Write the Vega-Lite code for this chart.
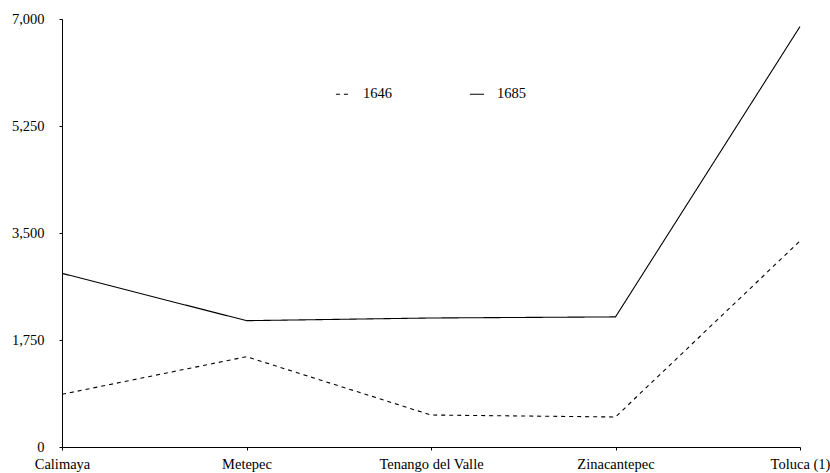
{
  "$schema": "https://vega.github.io/schema/vega-lite/v6.json",
  "width": 738,
  "height": 428,
  "autosize": {"type": "none"},
  "padding": {"left": 62, "top": 19, "right": 30, "bottom": 26},
  "background": "white",
  "config": {
    "view": {"stroke": null},
    "font": "Liberation Serif",
    "axis": {"grid": false, "domainColor": "black", "tickColor": "black", "labelColor": "black", "labelFont": "Liberation Serif", "labelFontWeight": "normal", "labelFontSize": 14.5, "domainWidth": 1, "tickWidth": 1, "title": null}
  },
  "data": {
    "values": [
      {"place": "Calimaya", "year": "1646", "value": 862},
      {"place": "Metepec", "year": "1646", "value": 1477},
      {"place": "Tenango del Valle", "year": "1646", "value": 523},
      {"place": "Zinacantepec", "year": "1646", "value": 491},
      {"place": "Toluca (1)", "year": "1646", "value": 3370},
      {"place": "Calimaya", "year": "1685", "value": 2840},
      {"place": "Metepec", "year": "1685", "value": 2066},
      {"place": "Tenango del Valle", "year": "1685", "value": 2110},
      {"place": "Zinacantepec", "year": "1685", "value": 2128},
      {"place": "Toluca (1)", "year": "1685", "value": 6876}
    ]
  },
  "mark": {"type": "line", "color": "black", "strokeWidth": 1.1},
  "encoding": {
    "x": {
      "field": "place", "type": "nominal", "sort": null,
      "scale": {"type": "point", "padding": 0},
      "axis": {"labelAngle": 0, "tickSize": 3, "labelPadding": 7}
    },
    "y": {
      "field": "value", "type": "quantitative",
      "scale": {"domain": [0, 7000], "nice": false},
      "axis": {"values": [0, 1750, 3500, 5250, 7000], "format": ",.0f", "tickSize": 3, "labelPadding": 15}
    },
    "strokeDash": {
      "field": "year", "type": "nominal",
      "scale": {"domain": ["1646", "1685"], "range": [[4, 4], [1, 0]]},
      "legend": {
        "title": null,
        "orient": "none",
        "legendX": 273,
        "legendY": 67,
        "direction": "horizontal",
        "symbolType": "stroke",
        "symbolSize": 200,
        "symbolStrokeColor": "black",
        "symbolStrokeWidth": 1.1,
        "labelFont": "Liberation Serif",
        "labelFontWeight": "normal",
        "labelFontSize": 14.5,
        "labelColor": "black",
        "labelOffset": 12,
        "columnPadding": 75
      }
    }
  }
}
